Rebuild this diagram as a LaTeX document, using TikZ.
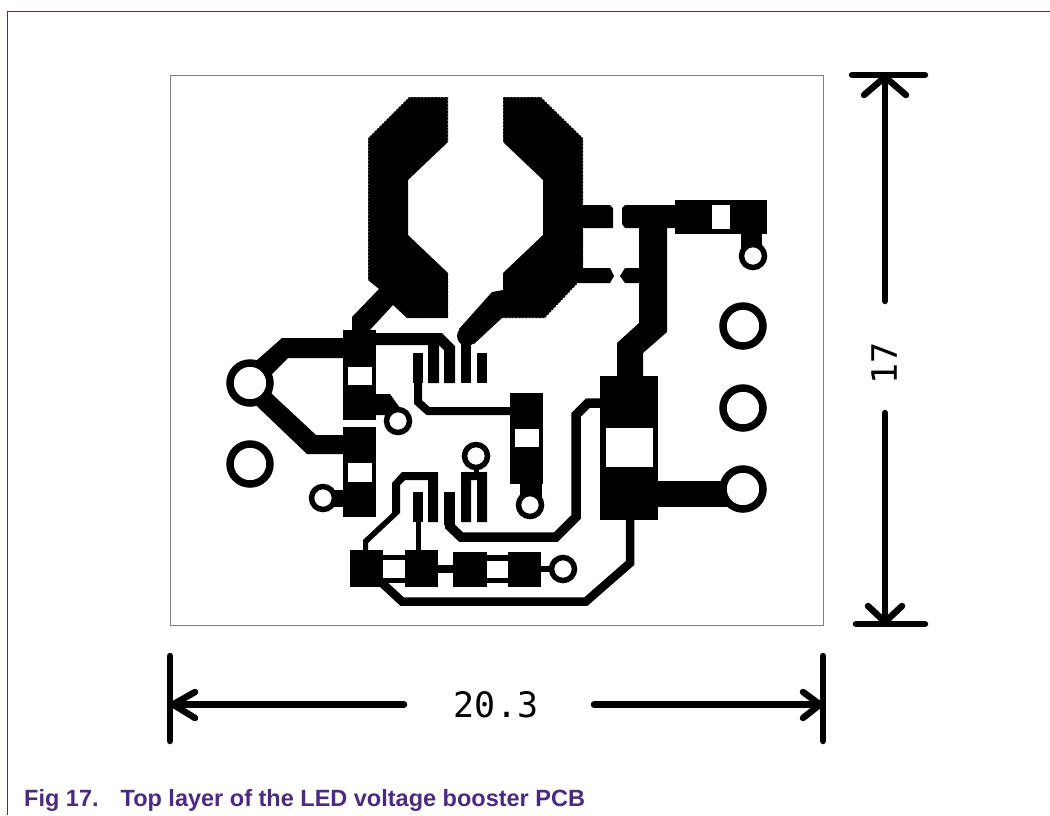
\documentclass[tikz,border=0pt]{standalone}
\usepackage{fontspec}
\setmainfont{Liberation Sans}
\newfontfamily\plotfont{DejaVu Sans Mono}
\definecolor{nxppurple}{HTML}{4B2A82}
\tikzset{
  copper/.style={fill=black,draw=none},
  hole/.style={fill=white,draw=none},
  trace/.style={draw=black,line width=#1,line join=miter},
  stipple/.style={draw=white,line width=0.9pt,dash pattern=on 1.2pt off 2.2pt},
  bigring/.style={draw=black,fill=white,line width=7.5pt,radius=20},
  smallring/.style={draw=black,fill=white,line width=5.5pt,radius=11.5},
  dimline/.style={draw=black,line width=6.5pt,line cap=round,line join=round},
  dimtext/.style={font=\plotfont\fontsize{35}{35}\selectfont,inner sep=0pt,text=black},
  caption/.style={font=\bfseries\fontsize{23.5}{26}\selectfont,text=nxppurple,anchor=base west,inner sep=0pt}
}
\begin{document}
\begin{tikzpicture}[x=1pt,y=-1pt]
\useasboundingbox (0,0) rectangle (1050,815);
\fill[white] (0,0) rectangle (1050,815);
% page frame
\draw[nxppurple,line width=1.3pt] (7.5,815) -- (7.5,11.5) -- (1050,11.5);
% board outline
\draw[black!50,line width=1pt] (170,75) rectangle (823,625);

% large copper areas
\fill[copper] (409,97) -- (448,97) -- (448,142) -- (408,180) -- (408,235) -- (448,273) -- (448,318)
  -- (407,318) -- (393,305) -- (368,332) -- (352,332) -- (352,317) -- (379,289) -- (368,280) -- (368,138) -- cycle;
\fill[copper] (503,97) -- (541,97) -- (583,138) -- (583,205) -- (610,205) -- (613,208) -- (613,228) -- (583,228)
  -- (583,268) -- (610,268) -- (614,276) -- (610,283) -- (578,283) -- (545,318) -- (502,318) -- (474,344)
  -- (459,329) -- (492,292) -- (503,290) -- (503,273) -- (543,235) -- (543,180) -- (503,142) -- cycle;
\fill[copper] (467,336) circle (10);
\draw[stipple] (368,280) -- (368,138) -- (409,97) -- (448,97) -- (448,142);
\draw[stipple] (448,273) -- (448,318) -- (407,318);
\draw[stipple] (503,142) -- (503,97) -- (541,97) -- (583,138) -- (583,205);
\draw[stipple] (583,228) -- (583,268);
\draw[stipple] (578,283) -- (545,318) -- (502,318);

% tracks to the left connectors
\fill[copper] (282,338) -- (343,338) -- (343,358) -- (288,358) -- (250,396) -- (240,375) -- cycle;
\fill[copper] (250,370) -- (273,395) -- (316,435) -- (343,435) -- (343,454) -- (307,454) -- (240,390) -- cycle;

% upper left resistor pair
\fill[copper] (343,330) rectangle (376,420);
\fill[copper] (343,427) rectangle (376,517);
\fill[copper] (376,394) -- (390,394) -- (400,408) -- (390,415) -- (376,415) -- cycle;
\fill[copper] (376,490) rectangle (330,507);
\fill[hole] (348,367) rectangle (372,385);
\fill[hole] (348,463) rectangle (372,482);

% IC top pins and their tracks
\fill[copper] (376,333) -- (442,333) -- (455,346) -- (455,383) -- (444,383) -- (444,350) -- (439,345) -- (439,383) -- (428,383) -- (428,345) -- (376,345) -- cycle;
\fill[copper] (461,340) rectangle (471,383);
\fill[copper] (477,353) rectangle (487,383);
\fill[copper] (413,353) rectangle (423,383);
\draw[trace=8pt] (418,380) -- (418,402) -- (428,411) -- (512,411);

% right middle resistor
\fill[copper] (510,393) rectangle (543,484);
\fill[copper] (520,484) rectangle (542,498);
\fill[hole] (515,429) rectangle (539,447);

% IC bottom pins
\fill[copper] (392,483) -- (402,472) -- (438,472) -- (438,522) -- (428,522) -- (428,480) -- (405,480) -- (400,485)
  -- (400,513) -- (368,543) -- (368,552) -- (363,552) -- (363,540) -- (392,513) -- cycle;
\fill[copper] (413,492) rectangle (423,522);
\draw[trace=5pt] (418,520) -- (418,552);
\fill[copper] (444,492) rectangle (455,525);
\draw[trace=9.5pt] (449.5,522) -- (449.5,526) -- (461,537) -- (556,537) -- (576,517) -- (576,415) -- (588,403) -- (602,403);
\fill[copper] (461,472) -- (487,472) -- (487,522) -- (477,522) -- (477,480) -- (471,480) -- (471,522) -- (461,522) -- cycle;
\draw[trace=5pt] (476,462) -- (476,474);

% lower row of parts
\fill[copper] (350,550) rectangle (383,587);
\fill[copper] (405,550) rectangle (438,587);
\fill[copper] (383,555) rectangle (405,583);
\fill[hole] (383,560) rectangle (405,578);
\fill[copper] (438,565) rectangle (453,573);
\fill[copper] (453,552) rectangle (487,587);
\fill[copper] (508,552) rectangle (541,587);
\fill[copper] (487,555) rectangle (508,583);
\fill[hole] (487,561) rectangle (508,578);
\draw[trace=6pt] (541,569) -- (555,569);
\draw[trace=8.5pt] (382,583) -- (402,601.5) -- (586,601.5) -- (630,563) -- (630,515);

% big capacitor and its tracks
\fill[copper] (600,376) rectangle (658,520);
\fill[hole] (606,428) rectangle (653,467);
\fill[copper] (617,378) -- (617,343) -- (639,323) -- (639,228) -- (625,228) -- (622,224) -- (622,208) -- (625,205) -- (680,205)
  -- (680,228) -- (667,228) -- (667,332) -- (643,353) -- (643,378) -- cycle;
\fill[copper] (639,268) -- (625,268) -- (620,276) -- (625,283) -- (639,283) -- cycle;
\fill[copper] (658,481) rectangle (730,507);

% top right resistor
\fill[copper] (675,200) rectangle (767,234);
\fill[hole] (712,205) rectangle (730,229);
\fill[copper] (741,234) rectangle (762,250);

% through holes
\draw[bigring] (250,383) circle;
\draw[bigring] (250,464) circle;
\draw[bigring] (743,326) circle;
\draw[bigring] (743,408) circle;
\draw[bigring] (743,489) circle;
\draw[smallring] (398,421) circle;
\draw[smallring] (323,498) circle;
\draw[smallring] (476,456) circle;
\draw[smallring] (530,505) circle;
\draw[smallring] (563,569) circle;
\draw[smallring] (753,256) circle;

% width dimension
\draw[dimline] (170,656) -- (170,741);
\draw[dimline] (823,656) -- (823,741);
\draw[dimline] (404,704.5) -- (172,704.5);
\draw[dimline] (195,692) -- (173,704.5) -- (195,718);
\draw[dimline] (594,704.5) -- (821,704.5);
\draw[dimline] (803,692) -- (820,704.5) -- (803,718);
\node[dimtext] (widthlabel) at (496,705) {20.3};

% height dimension
\draw[dimline] (852,75) -- (925,75);
\draw[dimline] (856,624) -- (925,624);
\draw[dimline] (885,77) -- (885,301);
\draw[dimline] (864,95) -- (885,77) -- (906,95);
\draw[dimline] (885,413) -- (885,622);
\draw[dimline] (868,606) -- (885,622) -- (902,606);
\node[dimtext,rotate=90] (heightlabel) at (884,363) {17};

% caption
\node[caption] (figcaption) at (24,806) {Fig 17.\hspace{22pt}Top layer of the LED voltage booster PCB};
\end{tikzpicture}
\end{document}
